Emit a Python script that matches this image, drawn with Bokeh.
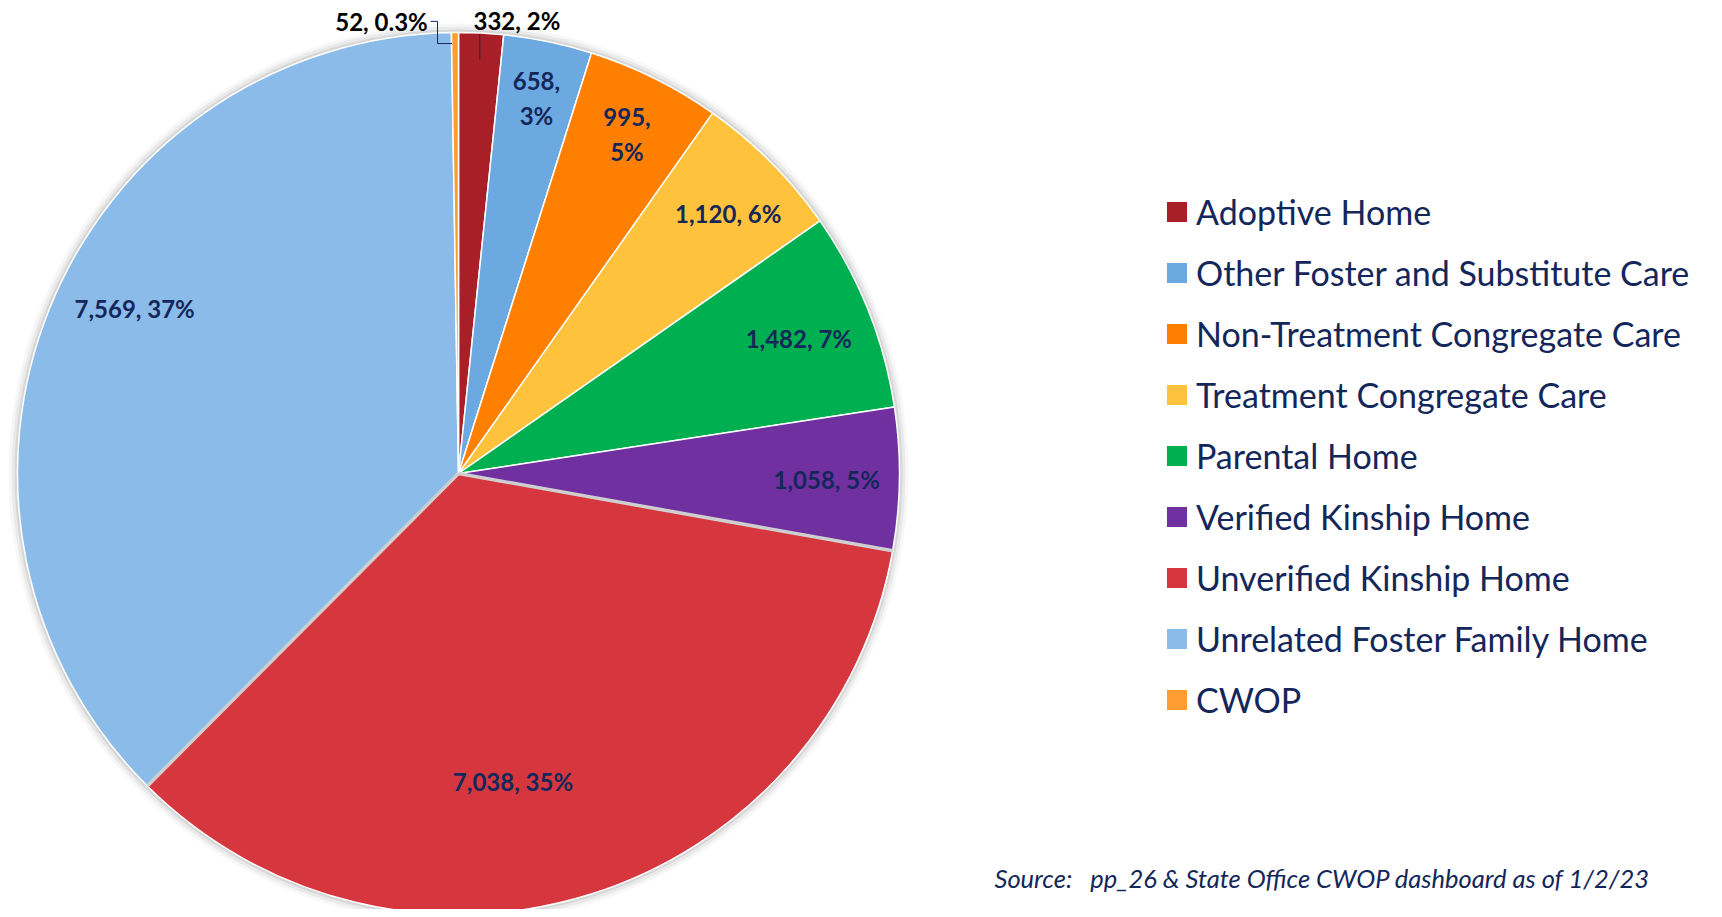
import math
from bokeh.plotting import figure
from bokeh.models import ColumnDataSource, Range1d, Legend, LegendItem
from bokeh.core.properties import value
from bokeh.embed import file_html
from bokeh.resources import INLINE

# ---------------- data ----------------
categories = ["Adoptive Home", "Other Foster and Substitute Care",
              "Non-Treatment Congregate Care", "Treatment Congregate Care",
              "Parental Home", "Verified Kinship Home", "Unverified Kinship Home",
              "Unrelated Foster Family Home", "CWOP"]
counts = [332, 658, 995, 1120, 1482, 1058, 7038, 7569, 52]
pct_labels = ["2%", "3%", "5%", "6%", "7%", "5%", "35%", "37%", "0.3%"]
colors = ["#A81F28", "#6CA9E1", "#FF8000", "#FFC23C", "#00AF50",
          "#7030A0", "#D6363D", "#8BBBE8", "#FF9D33"]
source_note = "Source:\u00a0\u00a0\u00a0pp_26 & State Office CWOP dashboard as of 1/2/23"

# ---------------- layout / style ----------------
W, H = 1706, 909
NAVY = "#14275A"
FONT = "Lato"

def X(px):
    return px

def Y(py):
    return H - py

CX, CY, R = X(458), Y(473), 441
# label placement: radius fraction and angular nudge (deg) per slice
label_r = [1.036, 0.87, 0.86, 0.85, 0.83, 0.835, 0.71, 0.824, 1.04]
label_dang = [4.4, 0.0, 0.0, 0.9, 0.2, 0.3, 7.5, 5.0, -9.2]
label_wrap = [False, True, True, False, False, False, False, False, False]
label_outside = [True, False, False, False, False, False, False, False, True]

total = sum(counts)
cum = [0]
for c in counts:
    cum.append(cum[-1] + c)
starts = [math.pi / 2 - 2 * math.pi * cum[i] / total for i in range(len(counts))]
ends = [math.pi / 2 - 2 * math.pi * cum[i + 1] / total for i in range(len(counts))]
mids_deg = [360.0 * (cum[i] + counts[i] / 2) / total for i in range(len(counts))]

src = ColumnDataSource(dict(
    x=[CX] * len(counts), y=[CY] * len(counts),
    start=starts, end=ends, color=colors, cat=categories, count=counts,
))

p = figure(width=W, height=H, output_backend="svg", toolbar_location=None,
           x_range=Range1d(0, W), y_range=Range1d(0, H),
           min_border=0, outline_line_color=None)
p.axis.visible = False
p.grid.visible = False
p.background_fill_color = "white"
p.border_fill_color = "white"

# soft shadow around pie
for dr, a in [(9, 0.03), (6, 0.05), (3, 0.08)]:
    p.wedge(x=CX, y=CY, radius=R + dr, start_angle=0, end_angle=2 * math.pi,
            fill_color="#000000", fill_alpha=a, line_color=None)

wedges = p.wedge(x="x", y="y", radius=R, start_angle="start", end_angle="end",
                 direction="clock", source=src, fill_color="color",
                 line_color="white", line_width=1.5)

# gray separators around the Unverified Kinship slice
ui = categories.index("Unverified Kinship Home")
seg_angles = [starts[ui], ends[ui]]
p.segment(x0=[CX, CX], y0=[CY, CY],
          x1=[CX + R * math.cos(a) for a in seg_angles],
          y1=[CY + R * math.sin(a) for a in seg_angles],
          line_color="#CFCFCF", line_width=3.5)

# data labels
lx, ly, ltext, lcol = [], [], [], []
for i, c in enumerate(counts):
    th = math.radians(mids_deg[i] + label_dang[i])
    r = label_r[i] * R
    lx.append(CX + r * math.sin(th))
    ly.append(CY + r * math.cos(th))
    sep = ",\n" if label_wrap[i] else ", "
    ltext.append(f"{c:,}{sep}{pct_labels[i]}")
    lcol.append("#000000" if label_outside[i] else NAVY)

lab_src = ColumnDataSource(dict(x=lx, y=ly, text=ltext, color=lcol))
p.text(x="x", y="y", text="text", source=lab_src, text_color="color",
       text_font=value(FONT), text_font_style="bold", text_font_size="24px",
       text_align="center", text_baseline="middle", text_line_height=1.2)

# leader lines for the two outside labels
a0 = math.radians(mids_deg[0])
tip0 = (CX + 0.94 * R * math.sin(a0), CY + 0.94 * R * math.cos(a0))
p.line(x=[tip0[0], tip0[0]], y=[ly[0] - 14, tip0[1]], line_color=NAVY, line_width=1)
a8 = math.radians(mids_deg[8])
tip8 = (CX + 0.975 * R * math.sin(a8), CY + 0.975 * R * math.cos(a8))
ex = lx[8] + 49
p.line(x=[ex, ex + 7, ex + 7, tip8[0] - 3], y=[ly[8], ly[8], tip8[1], tip8[1]],
       line_color=NAVY, line_width=1)

# legend
items = [LegendItem(label=cat, renderers=[wedges], index=i) for i, cat in enumerate(categories)]
legend = Legend(items=items, location=(1163, 189), orientation="vertical",
                label_text_font=FONT, label_text_font_size="34px",
                label_text_color=NAVY, glyph_width=27, glyph_height=27,
                label_standoff=6, spacing=20, padding=0, margin=0,
                border_line_alpha=0, background_fill_alpha=0)
p.add_layout(legend, "center")

# source note
p.text(x=[X(994)], y=[Y(877)], text=[source_note], text_color=NAVY,
       text_font=value(FONT), text_font_style="italic", text_font_size="25.5px",
       text_align="left", text_baseline="middle")

open("out.html", "w").write(file_html(p, INLINE))
